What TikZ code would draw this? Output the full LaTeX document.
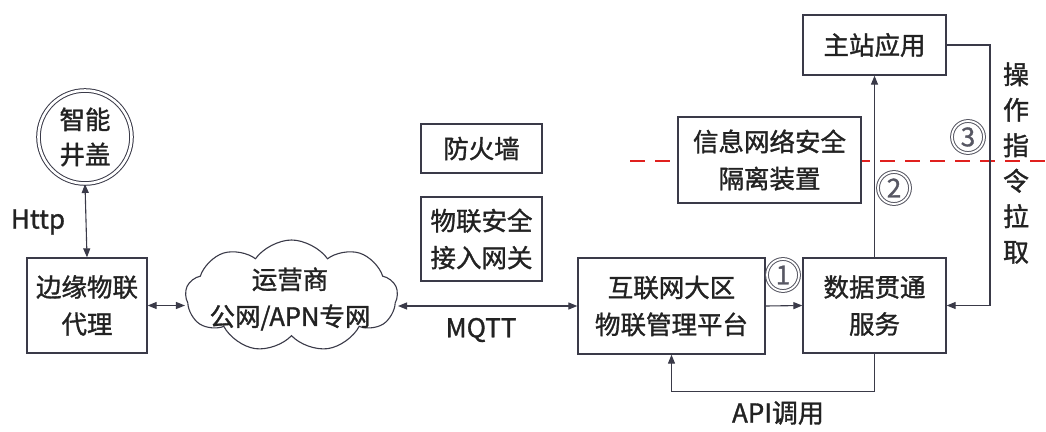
\documentclass[tikz,border=0pt]{standalone}
\usepackage{fontspec}
\setmainfont{Noto Sans CJK SC}[FakeBold=1.2]
\usetikzlibrary{arrows.meta,shapes.symbols,shapes.geometric}
\definecolor{boxc}{HTML}{3A3A48}
\definecolor{txtc}{HTML}{222222}
\definecolor{redd}{HTML}{E0201E}
\begin{document}
\begin{tikzpicture}[x=1pt,y=-1pt,
  box/.style={draw=boxc, line width=1.3pt, fill=white, align=center, text=txtc,
    font=\fontsize{25.5}{37}\selectfont, inner sep=0pt},
  arr/.style={-{Triangle[length=9pt,width=7pt]}, line width=1.1pt, draw=boxc},
  darr/.style={{Triangle[length=9pt,width=7pt]}-{Triangle[length=9pt,width=7pt]}, line width=1.1pt, draw=boxc},
  lbl/.style={text=txtc, font=\fontsize{26}{30}\selectfont, inner sep=0pt},
  num/.style={circle, draw=boxc!85, line width=1pt, double, double distance=1.8pt,
    minimum size=32pt, inner sep=0pt, text=boxc!85, font=\fontsize{26}{26}\selectfont}]
\useasboundingbox[fill=white] (0,0) rectangle (1046,431);

% red dashed separation line
\draw[redd, line width=2.6pt, dash pattern=on 15pt off 10pt] (630,161) -- (1046,161);

% nodes
\node[circle, draw=boxc, line width=1pt, double, double distance=2.6pt, minimum size=93pt,
  align=center, text=txtc, font=\fontsize{25.5}{35}\selectfont, inner sep=0pt] (well) at (85,137) {智能\\井盖};
\node[box, minimum width=120pt, minimum height=95pt] (agent) at (87,305.5) {边缘物联\\代理};
\node[cloud, draw=boxc, line width=1.1pt, cloud puffs=9, cloud puff arc=110, cloud ignores aspect,
  minimum width=212pt, minimum height=112pt, inner sep=0pt] (cloud) at (291.5,296) {};
\node[align=center, text=txtc, font=\fontsize{25.5}{37}\selectfont, inner sep=0pt] (cloudtxt) at (290,299) {运营商\\公网/APN专网};
\node[box, minimum width=121pt, minimum height=49pt] (fw) at (481.5,148.5) {防火墙};
\node[box, minimum width=121pt, minimum height=84pt] (gw) at (481.5,239) {物联安全\\接入网关};
\node[box, minimum width=187pt, minimum height=96pt] (plat) at (671.5,306) {互联网大区\\物联管理平台};
\node[box, minimum width=143pt, minimum height=95pt] (data) at (874.5,305.5) {数据贯通\\服务};
\node[box, minimum width=143pt, minimum height=60pt] (main) at (874.5,45) {主站应用};
\node[box, minimum width=183pt, minimum height=86pt] (iso) at (769.5,160) {信息网络安全\\隔离装置};

\coordinate (c3) at (990,0);

% connectors
\draw[darr] (well.south) -- (agent.north);
\draw[darr] (agent.east) -- (agent.east -| cloud.west);
\draw[darr] (plat.west -| cloud.east) -- (plat.west);
\draw[arr] (plat.east) -- (data.west);
\draw[arr] (data.north) -- (main.south);
\draw[arr] (main.east) -- (main.east -| c3) |- (data.east);
\draw[arr] (data.south) -- ++(0,38) -| (plat.south);

% labels
\node[lbl] (http) at (38,222) {Http};
\node[lbl] (mqtt) at (481,330) {MQTT};
\node[lbl] (api) at (778,413) {API调用};
\node[num] (n1) at (783,275) {1};
\node[num] (n2) at (894,188) {2};
\node[num] (n3) at (968,137) {3};
\node[text=txtc, align=center, font=\fontsize{26}{35.5}\selectfont, inner sep=0pt] (op) at (1016,163) {操\\作\\指\\令\\拉\\取};
\end{tikzpicture}
\end{document}
